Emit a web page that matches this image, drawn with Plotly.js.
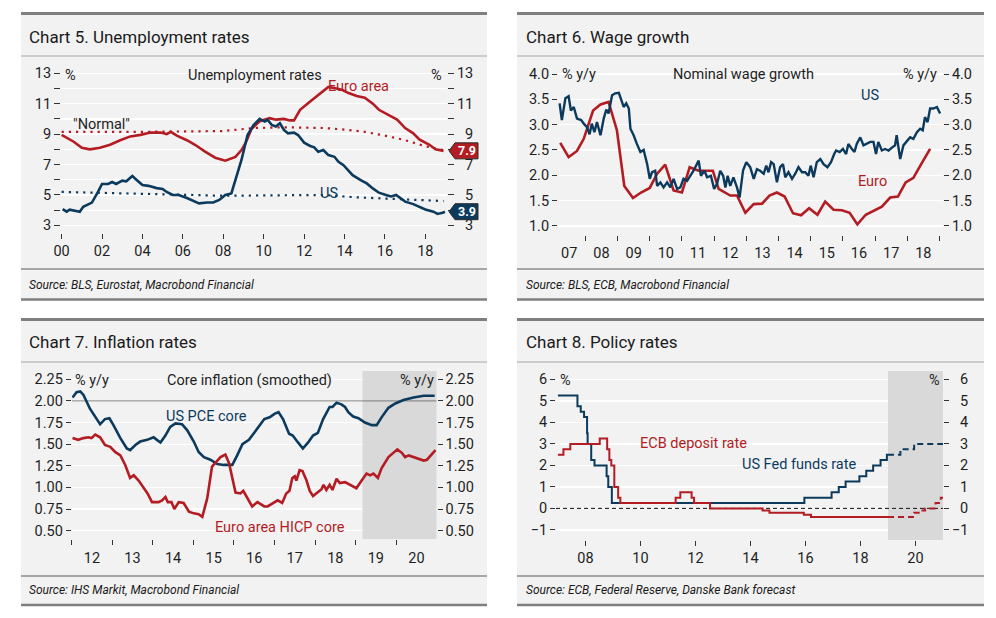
<!DOCTYPE html>
<html><head><meta charset="utf-8">
<script src="https://cdn.plot.ly/plotly-3.0.1.min.js"></script>
<style>html,body{margin:0;padding:0;background:#fff}#chart{width:996px;height:618px}</style>
</head><body><div id="chart"></div>
<script>
// ---------- Chart 5: Unemployment rates ----------
const unempYearTicks = [2000,2002,2004,2006,2008,2010,2012,2014,2016,2018];
const unempYearLabels = ['00','02','04','06','08','10','12','14','16','18'];
const unempValTicks = [3,4,5,6,7,8,9,10,11,12,13];
const unempValLabels = ['3','','5','','7','','9','','11','','13'];
const euroUnempX = [2000.0,2000.3,2000.6,2001.0,2001.4,2001.9,2002.4,2002.9,2003.4,2003.9,
  2004.4,2004.9,2005.2,2005.4,2005.7,2006.2,2006.6,2007.1,2007.6,2008.1,
  2008.6,2008.9,2009.1,2009.4,2009.8,2010.3,2010.6,2011.0,2011.3,2011.5,
  2011.8,2012.3,2012.8,2013.2,2013.6,2013.9,2014.2,2014.6,2015.0,2015.4,
  2015.7,2016.2,2016.6,2017.0,2017.4,2017.7,2018.2,2018.5,2018.9];
const euroUnempY = [8.95,8.75,8.5,8.1,8.0,8.1,8.3,8.6,8.85,8.95,
  9.1,9.1,9.0,9.15,8.9,8.6,8.3,7.85,7.45,7.25,
  7.5,7.95,8.4,9.35,9.85,10.05,9.95,10.0,9.9,9.9,
  10.6,11.15,11.7,12.1,12.0,11.9,11.7,11.5,11.4,11.0,
  10.6,10.25,9.95,9.4,9.05,8.65,8.3,8.0,7.9];
const usUnempX = [2000.05,2000.25,2000.4,2000.7,2000.9,2001.07,2001.3,2001.5,2001.8,
  2002.0,2002.3,2002.5,2002.7,2003.0,2003.2,2003.5,2003.7,2004.0,2004.3,2004.7,
  2005.0,2005.2,2005.5,2005.8,2006.2,2006.5,2006.8,2007.2,2007.5,2007.8,
  2008.1,2008.4,2008.6,2008.9,2009.2,2009.5,2009.8,2010.05,2010.2,2010.4,2010.6,2010.8,
  2011.0,2011.2,2011.5,2011.7,2012.0,2012.3,2012.5,2012.7,2012.95,
  2013.2,2013.5,2013.7,2013.95,2014.2,2014.4,2014.8,2015.1,2015.4,2015.7,
  2016.05,2016.3,2016.55,2016.8,2017.0,2017.4,2017.7,2018.0,2018.4,2018.6,2018.85,2018.97];
const usUnempY = [4.07,3.9,4.03,3.95,3.9,4.22,4.4,4.5,5.2,
  5.72,5.72,5.85,5.72,5.94,5.9,6.24,6.0,5.65,5.6,5.45,
  5.4,5.2,5.0,5.0,4.8,4.62,4.45,4.5,4.5,4.67,
  5.0,5.1,5.98,7.3,8.94,9.6,10.0,9.82,9.93,9.6,9.5,9.71,
  9.27,9.05,9.1,8.94,8.44,8.22,8.13,7.84,7.95,
  7.62,7.51,7.18,6.96,6.63,6.3,5.98,5.76,5.43,5.15,
  5.0,4.9,5.0,4.78,4.56,4.4,4.23,4.05,3.9,3.75,3.83,3.9];
const euroNormalX = [2000,2004,2008,2009.5,2011,2013,2014,2015,2016,2017,2018,2018.9];
const euroNormalY = [9.15,9.15,9.2,9.4,9.45,9.4,9.3,9.15,8.9,8.6,8.2,7.95];
const usNormalX = [2000,2005,2008,2010,2013,2014.5,2016.8,2018.9];
const usNormalY = [5.2,5.05,4.95,4.97,5.0,4.85,4.7,4.6];

// ---------- Chart 6: Wage growth ----------
const wageYearTicks = [2008,2009,2010,2011,2012,2013,2014,2015,2016,2017,2018,2019];
const wageLabelPos = [2007.5,2008.5,2009.5,2010.5,2011.5,2012.5,2013.5,2014.5,2015.5,2016.5,2017.5,2018.5];
const wageYearLabels = ['07','08','09','10','11','12','13','14','15','16','17','18'];
const wageValTicks = [1.0,1.5,2.0,2.5,3.0,3.5,4.0];
const wageValLabels = ['1.0','1.5','2.0','2.5','3.0','3.5','4.0'];
const usWageX = [2007.20,2007.27,2007.38,2007.48,2007.55,2007.64,2007.74,2007.87,2007.95,
  2008.05,2008.13,2008.20,2008.28,2008.36,2008.47,2008.57,2008.65,2008.72,2008.83,2008.93,
  2009.04,2009.11,2009.19,2009.27,2009.35,2009.40,2009.50,2009.60,2009.71,2009.81,2009.92,
  2010.00,2010.07,2010.17,2010.23,2010.33,2010.43,2010.54,2010.64,2010.74,2010.85,2010.95,
  2011.05,2011.16,2011.26,2011.36,2011.52,2011.59,2011.70,2011.78,2011.90,
  2012.00,2012.09,2012.19,2012.28,2012.35,2012.42,2012.50,2012.60,2012.71,2012.79,2012.90,
  2013.00,2013.12,2013.23,2013.33,2013.43,2013.54,2013.62,2013.69,2013.77,2013.85,2013.95,
  2014.05,2014.14,2014.21,2014.31,2014.42,2014.52,2014.62,2014.73,2014.83,2014.93,
  2015.00,2015.09,2015.19,2015.30,2015.40,2015.52,2015.63,2015.73,2015.79,2015.90,
  2016.00,2016.10,2016.17,2016.28,2016.36,2016.43,2016.54,2016.64,2016.74,2016.85,2016.95,
  2017.03,2017.10,2017.21,2017.31,2017.42,2017.55,2017.62,2017.67,2017.78,2017.88,2017.98,
  2018.09,2018.19,2018.30,2018.40,2018.48,2018.55,2018.63,2018.71,2018.81,2018.92,2019.02];
const usWageY = [3.42,3.09,3.52,3.56,3.28,3.35,3.12,3.09,3.02,
  2.95,2.81,3.02,2.85,3.05,2.79,3.12,3.30,3.22,3.58,3.62,
  3.63,3.48,3.35,3.42,3.32,2.92,2.79,2.62,2.46,2.50,2.22,
  1.93,2.06,2.09,1.79,1.86,1.76,1.86,1.76,1.93,1.73,1.76,
  1.93,1.89,1.99,2.09,2.29,1.99,2.09,1.96,1.99,
  1.73,1.83,2.09,1.99,1.76,1.99,1.79,1.96,1.76,1.56,2.10,
  2.26,2.16,1.93,2.12,2.09,2.03,2.19,2.06,2.26,2.22,1.86,
  2.16,2.22,1.96,2.06,1.93,2.03,2.16,2.06,2.06,1.99,
  2.19,1.96,2.26,2.32,2.22,2.16,2.26,2.42,2.49,2.46,
  2.52,2.42,2.62,2.52,2.46,2.62,2.75,2.59,2.62,2.66,2.66,
  2.42,2.66,2.49,2.52,2.49,2.56,2.59,2.79,2.32,2.59,2.66,
  2.75,2.72,2.85,2.92,2.89,3.15,3.05,3.32,3.32,3.35,3.22];
const euroWageX = [2007.22,2007.48,2007.74,2007.95,2008.24,2008.47,2008.72,2008.98,
  2009.21,2009.48,2009.73,2010.00,2010.23,2010.48,2010.74,2011.00,2011.24,2011.52,2011.78,2011.96,
  2012.14,2012.50,2012.71,2012.97,2013.23,2013.49,2013.72,2013.95,2014.19,2014.45,2014.70,2014.95,
  2015.21,2015.45,2015.71,2015.97,2016.21,2016.45,2016.71,2016.97,2017.21,2017.47,2017.71,2017.95,
  2018.19,2018.45,2018.71];
const euroWageY = [2.64,2.36,2.48,2.72,3.28,3.40,3.45,2.89,
  1.79,1.55,1.66,1.75,2.03,2.21,1.70,1.66,2.16,2.09,2.09,2.09,
  1.73,1.60,1.60,1.26,1.43,1.44,1.60,1.66,1.58,1.25,1.21,1.35,
  1.22,1.48,1.32,1.31,1.26,1.03,1.22,1.30,1.38,1.56,1.58,1.86,
  1.95,2.24,2.52];

// ---------- Chart 7: Inflation rates ----------
const inflYearTicks = [2012,2013,2014,2015,2016,2017,2018,2019,2020];
const inflLabelPos = [2012.5,2013.5,2014.5,2015.5,2016.5,2017.5,2018.5,2019.5,2020.5];
const inflYearLabels = ['12','13','14','15','16','17','18','19','20'];
const inflValTicks = [0.5,0.75,1.0,1.25,1.5,1.75,2.0,2.25];
const inflValLabels = ['0.50','0.75','1.00','1.25','1.50','1.75','2.00','2.25'];
const inflForecast = [2019.17, 2021.0];
const inflReference = [2.0, 2.0];
const usPceX = [2012.02,2012.12,2012.21,2012.29,2012.45,2012.62,2012.70,2012.82,2012.93,
  2013.03,2013.20,2013.36,2013.44,2013.57,2013.69,2013.86,
  2014.02,2014.10,2014.19,2014.31,2014.43,2014.56,2014.72,2014.85,
  2015.01,2015.13,2015.26,2015.42,2015.59,2015.75,2015.96,
  2016.08,2016.21,2016.37,2016.55,2016.75,2016.88,
  2017.00,2017.10,2017.21,2017.36,2017.45,2017.58,2017.70,2017.83,2017.95,
  2018.07,2018.20,2018.36,2018.43,2018.53,2018.65,2018.74,2018.82,2018.94,
  2019.07,2019.23,2019.40,2019.52,2019.64,2019.81,2019.98,
  2020.18,2020.43,2020.68,2020.95];
const usPceY = [2.04,2.10,2.11,2.07,1.91,1.78,1.73,1.79,1.80,
  1.72,1.57,1.45,1.43,1.49,1.53,1.55,
  1.58,1.55,1.52,1.60,1.70,1.74,1.73,1.66,
  1.53,1.41,1.35,1.32,1.27,1.26,1.26,
  1.37,1.50,1.55,1.67,1.79,1.81,
  1.85,1.87,1.79,1.62,1.60,1.52,1.45,1.52,1.60,
  1.63,1.79,1.93,1.93,1.98,1.96,1.93,1.87,1.82,
  1.80,1.75,1.72,1.72,1.81,1.92,1.97,
  2.01,2.04,2.06,2.06];
const euroHicpX = [2012.02,2012.16,2012.29,2012.41,2012.49,2012.58,2012.70,2012.82,2012.95,
  2013.07,2013.20,2013.32,2013.44,2013.53,2013.65,2013.77,2013.87,2013.98,
  2014.14,2014.23,2014.31,2014.37,2014.46,2014.53,2014.64,2014.76,2014.89,
  2015.01,2015.13,2015.22,2015.34,2015.46,2015.57,2015.67,2015.79,2015.88,
  2016.04,2016.16,2016.23,2016.33,2016.45,2016.58,2016.75,2016.83,2016.96,
  2017.08,2017.19,2017.29,2017.37,2017.44,2017.50,2017.54,2017.62,2017.69,2017.79,2017.87,2017.95,
  2018.07,2018.16,2018.21,2018.28,2018.36,2018.43,2018.53,2018.61,2018.74,2018.86,
  2019.02,2019.15,2019.27,2019.36,2019.44,2019.55,2019.64,2019.81,2019.93,
  2020.03,2020.14,2020.22,2020.31,2020.43,2020.55,2020.68,2020.76,2020.88,2020.97];
const euroHicpY = [1.57,1.55,1.57,1.58,1.57,1.61,1.58,1.49,1.47,
  1.41,1.37,1.26,1.11,1.14,1.08,0.99,0.93,0.83,
  0.83,0.85,0.89,0.83,0.83,0.75,0.83,0.82,0.72,
  0.70,0.69,0.66,0.87,1.24,1.30,1.35,1.38,1.28,
  0.94,0.93,0.96,0.87,0.78,0.83,0.78,0.78,0.82,
  0.85,0.82,0.93,0.96,1.11,1.13,1.08,1.20,1.19,1.08,0.96,0.90,
  0.94,0.98,1.03,0.97,1.03,0.97,1.10,1.05,1.06,1.03,
  0.99,1.08,1.16,1.14,1.16,1.11,1.22,1.35,1.40,
  1.44,1.40,1.35,1.37,1.35,1.33,1.31,1.32,1.39,1.43];

// ---------- Chart 8: Policy rates ----------
const policyYearTicks = [2008,2010,2012,2014,2016,2018,2020];
const policyYearLabels = ['08','10','12','14','16','18','20'];
const policyValTicks = [-1,0,1,2,3,4,5,6];
const policyValLabels = ['\u22121','0','1','2','3','4','5','6'];
const policyForecast = [2019.0, 2021.0];
const policyZero = [0, 0];
const fedX = [2007.0,2007.71,2007.83,2007.95,2008.06,2008.08,2008.21,2008.33,2008.77,2008.83,2008.96,
  2015.96,2016.95,2017.21,2017.46,2017.96,2018.21,2018.46,2018.73,2018.96,2019.0];
const fedY = [5.25,4.75,4.5,4.25,3.5,3.0,2.25,2.0,1.5,1.0,0.25,
  0.5,0.75,1.0,1.25,1.5,1.75,2.0,2.25,2.5,2.5];
const fedFcX = [2019.0,2019.45,2019.95,2021.0];
const fedFcY = [2.5,2.75,3.0,3.0];
const ecbX = [2007.0,2007.2,2007.45,2008.52,2008.79,2008.87,2008.94,2009.05,2009.19,2009.27,
  2011.28,2011.45,2011.86,2011.95,2012.53,2014.44,2014.69,2015.94,2016.2,2019.0];
const ecbY = [2.5,2.75,3.0,3.25,2.75,2.25,2.0,1.0,0.5,0.25,
  0.5,0.75,0.5,0.25,0.0,-0.1,-0.2,-0.3,-0.4,-0.4];
const ecbFcX = [2019.0,2019.95,2020.18,2020.35,2020.73,2020.92,2021.0];
const ecbFcY = [-0.4,-0.2,-0.1,0.0,0.25,0.5,0.5];

// ---------- styling ----------
const FONT = 'Roboto, "Open Sans", sans-serif';
const INK = '#1e1e1e';
const RED = '#b31c23';
const BLUE = '#0c3a5d';
const SHADE = '#d9d9d9';
const W = 996, H = 618;
const PX = v => v / W, PY = v => 1 - v / H;
const FS = 14.5;
const FSP = '\u2007';

function yAx(o) {
  return Object.assign({
    showgrid: true, gridcolor: '#ffffff', gridwidth: 1.3, zeroline: false, showline: false,
    ticks: 'outside', ticklen: 5, tickwidth: 1, tickcolor: '#333', tickmode: 'array',
    tickfont: {family: FONT, size: FS, color: INK}, fixedrange: true
  }, o);
}
function yRight(o) { return yAx(Object.assign({showgrid: false, side: 'right'}, o)); }
function xAx(o) {
  return Object.assign({
    showgrid: false, zeroline: false, showline: false, ticks: 'outside', ticklen: 5, tickwidth: 1,
    tickcolor: '#333', tickmode: 'array', tickfont: {family: FONT, size: FS, color: INK}, fixedrange: true
  }, o);
}
const padR = arr => arr.map(s => (s.length === 1 ? FSP + s : s));

// axis geometry
const p1 = {x0: 61, x1: 447, yTop: 68.7, yBot: 233, range: [2.5, 13.3], xr: [1999.97, 2019.07]};
const p2 = {x0: 558, x1: 943, yTop: 69, yBot: 235, range: [0.82, 4.1], xr: [2007.15, 2019.11]};
const p3 = {x0: 71.7, x1: 436.7, yTop: 371, yBot: 539.3, range: [0.4, 2.346], xr: [2012, 2021]};
const p4 = {x0: 556, x1: 943, yTop: 371, yBot: 540, range: [-1.47, 6.39], xr: [2006.93, 2021.0]};

const layout = {
  width: W, height: H, autosize: false,
  margin: {l: 0, r: 0, t: 0, b: 0, pad: 0},
  paper_bgcolor: '#ffffff', plot_bgcolor: '#f2f2f2',
  showlegend: false, hovermode: false,
  font: {family: FONT, color: INK, size: FS},
  xaxis: xAx({domain: [PX(p1.x0), PX(p1.x1)], anchor: 'y', range: p1.xr,
    tickvals: unempYearTicks, ticktext: unempYearLabels}),
  yaxis: yAx({domain: [PY(p1.yBot), PY(p1.yTop)], anchor: 'x', range: p1.range,
    tickvals: unempValTicks, ticktext: unempValLabels, ticklen: 6}),
  yaxis5: yRight({overlaying: 'y', anchor: 'x', range: p1.range,
    tickvals: unempValTicks, ticktext: padR(unempValLabels), ticklen: 6}),

  xaxis2: xAx({domain: [PX(p2.x0), PX(p2.x1)], anchor: 'y2', range: p2.xr,
    tickvals: wageLabelPos, ticktext: wageYearLabels, tickcolor: 'rgba(0,0,0,0)',
    minor: {tickmode: 'array', tickvals: wageYearTicks, ticks: 'outside', ticklen: 5, tickwidth: 1, tickcolor: '#333', showgrid: false}}),
  yaxis2: yAx({domain: [PY(p2.yBot), PY(p2.yTop)], anchor: 'x2', range: p2.range,
    tickvals: wageValTicks, ticktext: wageValLabels}),
  yaxis6: yRight({overlaying: 'y2', anchor: 'x2', range: p2.range,
    tickvals: wageValTicks, ticktext: wageValLabels}),

  xaxis3: xAx({domain: [PX(p3.x0), PX(p3.x1)], anchor: 'y3', range: p3.xr,
    tickvals: inflLabelPos, ticktext: inflYearLabels, tickcolor: 'rgba(0,0,0,0)',
    minor: {tickmode: 'array', tickvals: inflYearTicks, ticks: 'outside', ticklen: 5, tickwidth: 1, tickcolor: '#333', showgrid: false}}),
  yaxis3: yAx({domain: [PY(p3.yBot), PY(p3.yTop)], anchor: 'x3', range: p3.range,
    tickvals: inflValTicks, ticktext: inflValLabels}),
  yaxis7: yRight({overlaying: 'y3', anchor: 'x3', range: p3.range,
    tickvals: inflValTicks, ticktext: inflValLabels}),

  xaxis4: xAx({domain: [PX(p4.x0), PX(p4.x1)], anchor: 'y4', range: p4.xr,
    tickvals: policyYearTicks, ticktext: policyYearLabels}),
  yaxis4: yAx({domain: [PY(p4.yBot), PY(p4.yTop)], anchor: 'x4', range: p4.range,
    tickvals: policyValTicks, ticktext: policyValLabels}),
  yaxis8: yRight({overlaying: 'y4', anchor: 'x4', range: p4.range,
    tickvals: policyValTicks, ticktext: padR(policyValLabels)}),
  shapes: [], annotations: []
};

// panel frames
const panels = [
  {x0: 21, x1: 487, top: 13.5, sep: 56, src: 269, bot: 299.5},
  {x0: 517, x1: 984, top: 13.5, sep: 56, src: 269, bot: 299.5},
  {x0: 21, x1: 487, top: 319.5, sep: 362, src: 576, bot: 605},
  {x0: 517, x1: 984, top: 319.5, sep: 362, src: 576, bot: 605}
];
const S = layout.shapes;
panels.forEach(p => {
  S.push({type: 'rect', xref: 'paper', yref: 'paper', x0: PX(p.x0), x1: PX(p.x1), y0: PY(p.bot), y1: PY(p.top),
    fillcolor: '#f2f2f2', line: {width: 0}, layer: 'below'});
  const hl = (y, w, c) => S.push({type: 'line', xref: 'paper', yref: 'paper', x0: PX(p.x0), x1: PX(p.x1),
    y0: PY(y), y1: PY(y), line: {color: c, width: w}, layer: 'above'});
  hl(p.top, 3, '#7f7f7f');
  hl(p.sep, 1, '#a6a6a6');
  hl(p.src, 1.5, '#8c8c8c');
  hl(p.bot, 2.5, '#7f7f7f');
});

// last-value tags in chart 5
const unitsPerPx1 = (p1.range[1] - p1.range[0]) / (p1.yBot - p1.yTop);
const hh = 8 * unitsPerPx1;
function tag(v, color) {
  const tip = PX(449), b0 = PX(455), b1 = PX(478);
  S.push({type: 'path', xref: 'paper', yref: 'y',
    path: `M ${tip},${v} L ${b0},${v + hh} L ${b1},${v + hh} L ${b1},${v - hh} L ${b0},${v - hh} Z`,
    fillcolor: color, line: {color: '#2a2a2a', width: 1}, layer: 'above'});
  layout.annotations.push({xref: 'paper', yref: 'y', x: PX(466.5), y: v, text: v.toFixed(1), showarrow: false,
    xanchor: 'center', yanchor: 'middle', font: {family: FONT, size: 12.5, color: '#ffffff', weight: 'bold'}});
}
tag(euroUnempY[euroUnempY.length - 1], RED);
tag(usUnempY[usUnempY.length - 1], BLUE);

// text annotations
const A = layout.annotations;
function txt(text, x, y, xa, opts) {
  A.push(Object.assign({xref: 'paper', yref: 'paper', x: PX(x), y: PY(y), text: text, showarrow: false,
    xanchor: xa, yanchor: 'middle', font: {family: FONT, size: FS, color: INK}}, opts || {}));
}
const titleFont = {font: {family: FONT, size: 17, color: '#1a1a1a'}};
const srcFont = {font: {family: FONT, size: 12, color: '#1a1a1a', style: 'italic'}};
txt('Chart 5. Unemployment rates', 27, 36.5, 'left', titleFont);
txt('Chart 6. Wage growth', 523.5, 36.5, 'left', titleFont);
txt('Chart 7. Inflation rates', 27, 342, 'left', titleFont);
txt('Chart 8. Policy rates', 523.5, 342, 'left', titleFont);
txt('Source: BLS, Eurostat, Macrobond Financial', 27, 284.5, 'left', srcFont);
txt('Source: BLS, ECB, Macrobond Financial', 523.5, 284.5, 'left', srcFont);
txt('Source: IHS Markit, Macrobond Financial', 27, 590, 'left', srcFont);
txt('Source: ECB, Federal Reserve, Danske Bank forecast', 523.5, 590, 'left', srcFont);

txt('Unemployment rates', 254.7, 75.5, 'center');
txt('%', 62.5, 75.5, 'left');
txt('%', 444, 75.5, 'right');
txt('Euro area', 358, 87, 'center', {font: {family: FONT, size: FS, color: RED}});
txt('"Normal"', 101.7, 125, 'center');
txt('US', 329, 193.5, 'center', {font: {family: FONT, size: FS, color: BLUE}});

txt('Nominal wage growth', 743.8, 75, 'center');
txt('% y/y', 560, 75, 'left');
txt('% y/y', 939, 75, 'right');
txt('US', 869.8, 96, 'center', {font: {family: FONT, size: FS, color: BLUE}});
txt('Euro', 872.7, 181, 'center', {font: {family: FONT, size: FS, color: RED}});

txt('Core inflation (smoothed)', 249.7, 380.7, 'center');
txt('% y/y', 72.5, 380.7, 'left');
txt('% y/y', 435.5, 380.7, 'right');
txt('US PCE core', 206.7, 416.7, 'center', {font: {family: FONT, size: FS, color: BLUE}});
txt('Euro area HICP core', 279.7, 527.3, 'center', {font: {family: FONT, size: FS, color: RED}});

txt('%', 557.5, 380.7, 'left');
txt('%', 941.5, 380.7, 'right');
txt('ECB deposit rate', 693.5, 443.3, 'center', {font: {family: FONT, size: FS, color: RED}});
txt('US Fed funds rate', 798.5, 464, 'center', {font: {family: FONT, size: FS, color: BLUE}});

// ---------- traces ----------
const ln = (x, y, xa, ya, color, width, extra) => ({
  type: 'scatter', mode: 'lines', x: x, y: y, xaxis: xa, yaxis: ya, hoverinfo: 'skip',
  line: Object.assign({color: color, width: width}, extra || {})});
const ghost = (x, y, xa, ya) => ({type: 'scatter', mode: 'lines', x: [x[0]], y: [y[0]], xaxis: xa, yaxis: ya,
  hoverinfo: 'skip', line: {width: 0, color: 'rgba(0,0,0,0)'}});
const shade = (xs, yr, xa, ya) => ({type: 'scatter', mode: 'lines', xaxis: xa, yaxis: ya, hoverinfo: 'skip',
  x: [xs[0], xs[1], xs[1], xs[0], xs[0]], y: [yr[0], yr[0], yr[1], yr[1], yr[0]],
  fill: 'toself', fillcolor: SHADE, line: {width: 0, color: SHADE}});

const data = [
  ln(euroNormalX, euroNormalY, 'x', 'y', RED, 2.2, {dash: '2.2px,5px'}),
  ln(usNormalX, usNormalY, 'x', 'y', BLUE, 2.2, {dash: '2.2px,5px'}),
  ln(euroUnempX, euroUnempY, 'x', 'y', RED, 2.6),
  ln(usUnempX, usUnempY, 'x', 'y', BLUE, 2.6),
  ghost(euroUnempX, euroUnempY, 'x', 'y5'),

  ln(euroWageX, euroWageY, 'x2', 'y2', RED, 2.6),
  ln(usWageX, usWageY, 'x2', 'y2', BLUE, 2.4),
  ghost(usWageX, usWageY, 'x2', 'y6'),

  shade(inflForecast, p3.range, 'x3', 'y3'),
  ln(p3.xr, inflReference, 'x3', 'y3', '#7a7a7a', 1),
  ln(usPceX, usPceY, 'x3', 'y3', BLUE, 2.6),
  ln(euroHicpX, euroHicpY, 'x3', 'y3', RED, 2.6),
  ghost(usPceX, usPceY, 'x3', 'y7'),

  shade(policyForecast, p4.range, 'x4', 'y4'),
  ln(p4.xr, policyZero, 'x4', 'y4', '#111111', 1, {dash: '4px,3px'}),
  ln(fedX, fedY, 'x4', 'y4', BLUE, 2, {shape: 'hv'}),
  ln(fedFcX, fedFcY, 'x4', 'y4', BLUE, 2, {shape: 'hv', dash: '6px,4px'}),
  ln(ecbX, ecbY, 'x4', 'y4', RED, 2, {shape: 'hv'}),
  ln(ecbFcX, ecbFcY, 'x4', 'y4', RED, 2, {shape: 'hv', dash: '6px,4px'}),
  ghost(fedX, fedY, 'x4', 'y8')
];

Plotly.newPlot('chart', data, layout, {staticPlot: true, displayModeBar: false});
</script>
</body></html>
